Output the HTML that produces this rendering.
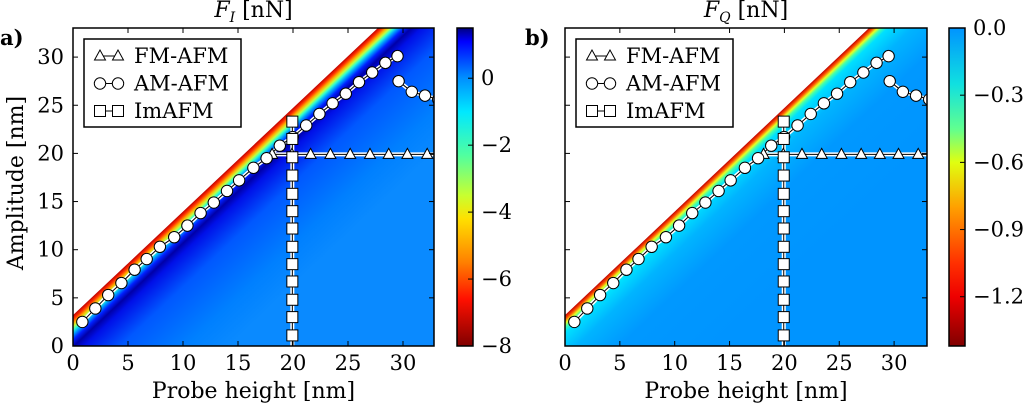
<!DOCTYPE html>
<html><head><meta charset="utf-8"><style>
html,body{margin:0;padding:0;background:#fff;}
svg{display:block;font-family:"DejaVu Serif","Liberation Serif",serif;}
</style></head><body>
<svg id="fig" width="1024" height="404" viewBox="0 0 1024 404" xmlns="http://www.w3.org/2000/svg"></svg>
<script>
// ---- data ----
const amH = [0.85,2.03,3.2,4.4,5.6,6.7,7.9,9.2,10.4,11.6,12.8,14.0,15.1,16.4,17.6,18.8,19.97,21.2,22.4,23.6,24.8,26.0,27.2,28.4,29.5];
const amA = [2.5,3.9,5.29,6.54,7.92,9.03,10.3,11.3,12.5,13.8,14.9,16.1,17.2,18.5,19.5,20.8,21.7,22.9,24.1,25.2,26.2,27.4,28.4,29.4,30.1];
const amTailH = [29.6,30.8,32.0,33.2];
const amTailA = [27.5,26.4,26.0,25.6];
const fmH = [18.1,19.9,21.6,23.4,25.2,27.0,28.7,30.4,32.2];
const fmA = [19.9,19.9,19.9,19.9,19.9,19.9,19.9,19.9,19.9];
const imH = [19.94,19.94,19.94,19.94,19.94,19.94,19.94,19.94,19.94,19.94,19.94,19.94,19.94];
const imA = [23.3,21.5,19.6,17.7,15.8,14.0,12.2,10.3,8.5,6.7,4.8,3.0,1.1];
const xTicks = [0,5,10,15,20,25,30];
const yTicks = [0,5,10,15,20,25,30];
const cbLeftTicks = [0,-2,-4,-6,-8];
const cbLeftLabels = ["0","\u22122","\u22124","\u22126","\u22128"];
const cbRightTicks = [0,-0.3,-0.6,-0.9,-1.2];
const cbRightLabels = ["0.0","\u22120.3","\u22120.6","\u22120.9","\u22121.2"];
const edgeA0 = 3.2, edgeSlope = 1.076;

const NS="http://www.w3.org/2000/svg";
const svg=document.getElementById('fig');
function el(tag,attrs,parent){const e=document.createElementNS(NS,tag);for(const k in attrs)e.setAttribute(k,attrs[k]);(parent||svg).appendChild(e);return e;}
const defs=el('defs',{});
const FS=21;

function panel(p){
  const X0=p.x0, X1=p.x1, Y0=346, Y1=28;
  const xMax=(X1-X0)/p.pxn, yMax=(Y0-Y1)/9.63;
  const sx=h=>X0+h*p.pxn, sy=a=>Y0-a*9.63;
  const g=el('g',{});
  
  
  const clip=el('clipPath',{id:p.id+'clip'},defs);
  el('rect',{x:X0,y:Y1,width:X1-X0,height:Y0-Y1},clip);
  const ex0=sx(0),ey0=sy(edgeA0),ex1=sx((yMax-edgeA0)/edgeSlope),ey1=sy(yMax);
  let dx=ex1-ex0,dy=ey1-ey0,L=Math.hypot(dx,dy);dx/=L;dy/=L;
  const nx=-dy,ny=dx;
  const D=130;
  const lg=el('linearGradient',{id:p.id+'hg',gradientUnits:'userSpaceOnUse',x1:ex0,y1:ey0,x2:ex0+nx*D,y2:ey0+ny*D},defs);
  p.stops.forEach(s=>el('stop',{offset:s[0]/D,'stop-color':s[1]},lg));
  const hm=el('g',{'clip-path':`url(#${p.id}clip)`},g);
  const r=el('rect',{x:X0,y:Y1,width:X1-X0,height:Y0-Y1,fill:`url(#${p.id}hg)`},hm);
  
  
  el('polygon',{points:`${ex0-50*dx},${ey0-50*dy} ${ex1+100*dx},${ey1+100*dy} ${X0-10},${Y1-10}`,fill:'#fff'},hm);
  const ser=el('g',{'clip-path':`url(#${p.id}clip)`},g);
  function line(H,A,name){
    const pts=H.map((h,i)=>sx(h)+','+sy(A[i])).join(' ');
    el('polyline',{points:pts,fill:'none',stroke:'#fff','stroke-width':4},ser);
    const l=el('polyline',{points:pts,fill:'none',stroke:'#000','stroke-width':1},ser);
    
    
  }
  line(imH.concat([19.94]),imA.concat([-1]),'imafm-line');
  line([17.5].concat(fmH,[34]),[19.9].concat(fmA,[19.9]),'fmafm-line');
  line(amH,amA,'amafm-line');
  line(amTailH,amTailA,'amafm-tail-line');
  fmH.forEach((h,i)=>{const x=sx(h),y=sy(fmA[i]);
    const t=el('polygon',{points:`${x},${y-6} ${x-5.5},${y+4} ${x+5.5},${y+4}`,fill:'#fff',stroke:'#000','stroke-width':1},ser);
    
    });
  amH.concat(amTailH).forEach((h,i)=>{const a=amA.concat(amTailA)[i];
    const c=el('circle',{cx:sx(h),cy:sy(a),r:5.7,fill:'#fff',stroke:'#000','stroke-width':1},ser);
    
    });
  imH.forEach((h,i)=>{
    const s=el('rect',{x:sx(h)-5.5,y:sy(imA[i])-5.5,width:11,height:11,fill:'#fff',stroke:'#000','stroke-width':1},ser);
    
    });
  const fr=el('rect',{x:X0,y:Y1,width:X1-X0,height:Y0-Y1,fill:'none',stroke:'#000','stroke-width':1.5},g);
  
  
  xTicks.forEach(t=>{const x=sx(t);
    el('line',{x1:x,y1:Y0,x2:x,y2:Y0-5,stroke:'#000'},g);
    el('line',{x1:x,y1:Y1,x2:x,y2:Y1+5,stroke:'#000'},g);
    const tx=el('text',{x:x,y:370,'font-size':FS,'text-anchor':'middle'},g);tx.textContent=t;
    
    });
  yTicks.forEach(t=>{const y=sy(t);
    el('line',{x1:X0,y1:y,x2:X0+5,y2:y,stroke:'#000'},g);
    el('line',{x1:X1,y1:y,x2:X1-5,y2:y,stroke:'#000'},g);
    if(p.ylabels){const tx=el('text',{x:X0-9,y:y+7,'font-size':FS,'text-anchor':'end'},g);tx.textContent=t;
      
      }});
  const xl=el('text',{x:(X0+X1)/2,y:398,'font-size':22,'text-anchor':'middle'},g);xl.textContent='Probe height [nm]';
  
  
  if(p.ylabels){const yl=el('text',{x:0,y:0,'font-size':22,'text-anchor':'middle',transform:`translate(23,${(Y0+Y1)/2-4}) rotate(-90)`},g);yl.textContent='Amplitude [nm]';
    
    }
  const tt=el('text',{x:(X0+X1)/2,y:17,'font-size':22,'text-anchor':'middle'},g);
  tt.innerHTML=`<tspan font-style="italic">F</tspan><tspan font-style="italic" font-size="14" dy="5">${p.sub}</tspan><tspan dy="-5"> [nN]</tspan>`;
  
  
  const pl=el('text',{x:p.lx,y:45,'font-size':21,'font-weight':'bold'},g);pl.textContent=p.letter;
  
  
  const lgd=el('g',{},g);
  
  
  const LX=p.legx;
  el('rect',{x:LX,y:39,width:157,height:88,fill:'#fff',stroke:'#000','stroke-width':1.5},lgd);
  const names=['FM-AFM','AM-AFM','ImAFM'];
  names.forEach((n,i)=>{const y=56+i*27.5, a=LX+16, b=LX+34;
    el('line',{x1:a,y1:y,x2:b,y2:y,stroke:'#000'},lgd);
    [a,b].forEach(x=>{
      if(i==0)el('polygon',{points:`${x},${y-6} ${x-5.5},${y+4} ${x+5.5},${y+4}`,fill:'#fff',stroke:'#000'},lgd);
      if(i==1)el('circle',{cx:x,cy:y,r:5.7,fill:'#fff',stroke:'#000'},lgd);
      if(i==2)el('rect',{x:x-5.5,y:y-5.5,width:11,height:11,fill:'#fff',stroke:'#000'},lgd);});
    const t=el('text',{x:LX+50,y:y+7,'font-size':21},lgd);t.textContent=n;
    
    });
  const cb=el('g',{},g);
  
  
  const cg=el('linearGradient',{id:p.id+'cg',x1:0,y1:0,x2:0,y2:1},defs);
  const vy=v=>Y1+(p.cbMax-v)/(p.cbMax-p.cbMin)*(Y0-Y1);
  p.cbStops.forEach(s=>el('stop',{offset:(vy(s[0])-Y1)/(Y0-Y1),'stop-color':s[1]},cg));
  el('rect',{x:p.cbx,y:Y1,width:16,height:Y0-Y1,fill:`url(#${p.id}cg)`,stroke:'#000','stroke-width':1.5},cb);
  p.cbTicks.forEach((v,i)=>{const y=vy(v);
    el('line',{x1:p.cbx+16,y1:y,x2:p.cbx+11,y2:y,stroke:'#000'},cb);
    const t=el('text',{x:p.cbx+24,y:y+7,'font-size':FS},cb);t.textContent=p.cbLabels[i];
    
    });
}
panel({id:'a',x0:73,x1:434,pxn:11,ylabels:true,sub:'I',letter:'a)',lx:0,legx:84,cbx:457,cbMax:1.5,cbMin:-8,
  stops:[[0,'#c00000'],[3,'#ff3000'],[6,'#ffb000'],[8.5,'#c0ff40'],[11,'#30ffd0'],[14,'#00a0ff'],[18,'#0020ff'],[23,'#0000a8'],[30,'#0010e8'],[55,'#0058ff'],[100,'#0080ff'],[130,'#0a8aff']],
  cbTicks:cbLeftTicks,cbLabels:cbLeftLabels,
  cbStops:[[1.5,'#000080'],[1.1,'#0000ff'],[0,'#0090ff'],[-1,'#00e8ff'],[-2.3,'#50ffa0'],[-3.5,'#c8ff30'],[-4.2,'#ffe000'],[-5.5,'#ff8000'],[-6.6,'#ff1000'],[-8,'#800000']]});
panel({id:'b',x0:565,x1:927,pxn:10.97,ylabels:false,sub:'Q',letter:'b)',lx:525,legx:576,cbx:949,cbMax:0,cbMin:-1.42,
  stops:[[0,'#c00000'],[3,'#ff5000'],[6,'#e8ff20'],[9,'#40ffb0'],[13,'#00e0ff'],[30,'#00b4ff'],[60,'#0098ff'],[130,'#0094ff']],
  cbTicks:cbRightTicks,cbLabels:cbRightLabels,
  cbStops:[[0,'#0094ff'],[-0.25,'#10e0e0'],[-0.45,'#60ff90'],[-0.6,'#e0ff10'],[-0.8,'#ffa000'],[-1.05,'#ff3000'],[-1.2,'#ee0000'],[-1.42,'#800000']]});
</script>
</body></html>
